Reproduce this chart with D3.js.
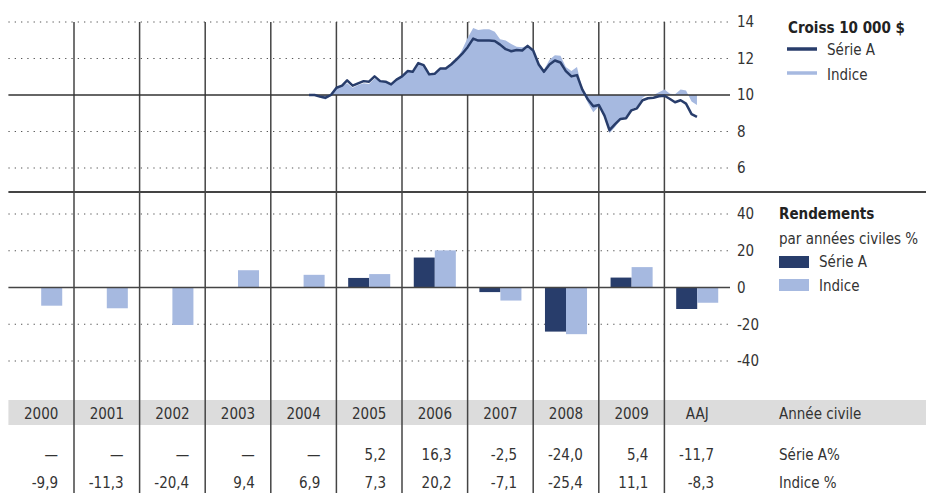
<!DOCTYPE html>
<html>
<head>
<meta charset="utf-8">
<script src="https://cdn.jsdelivr.net/npm/d3@7"></script>
<style>
  body { margin: 0; background: #fff; }
  text { font-family: "Liberation Sans Narrow", "DejaVu Sans Condensed", "Roboto", sans-serif; fill: #333; font-size: 15px; }
</style>
</head>
<body>
<div id="chart-area"></div>
<script>
// calendar columns
const years = ["2000", "2001", "2002", "2003", "2004", "2005", "2006", "2007", "2008", "2009", "AAJ"];
const serieA = [null, null, null, null, null, 5.2, 16.3, -2.5, -24.0, 5.4, -11.7];
const indice = [-9.9, -11.3, -20.4, 9.4, 6.9, 7.3, 20.2, -7.1, -25.4, 11.1, -8.3];

// growth of 10 000 $, monthly from Aug 2004 to Jul 2010
const growthStart = new Date(2004, 7, 1);
const growthA = [10.00, 10.00, 9.91, 9.85, 10.00,
  10.40, 10.51, 10.80, 10.51, 10.64, 10.76, 10.73, 11.02, 10.76, 10.73, 10.58, 10.84,
  11.02, 11.31, 11.27, 11.75, 11.64, 11.13, 11.16, 11.45, 11.45, 11.67, 11.96, 12.25,
  12.62, 13.09, 12.98, 12.98, 12.98, 12.96, 12.76, 12.51, 12.40, 12.47, 12.44, 12.69,
  12.44, 11.67, 11.27, 11.67, 11.89, 11.78, 11.31, 11.02, 11.09, 10.29, 9.75, 9.38,
  9.45, 8.87, 8.07, 8.40, 8.69, 8.73, 9.16, 9.27, 9.71, 9.82, 9.85, 9.93,
  9.96, 9.78, 9.60, 9.71, 9.53, 8.95, 8.80];
const growthI = [10.00, 10.05, 9.85, 9.75, 9.95,
  10.35, 10.50, 10.65, 10.40, 10.55, 10.65, 10.60, 10.90, 10.75, 10.70, 10.55, 10.85,
  11.00, 11.30, 11.25, 11.72, 11.62, 11.12, 11.15, 11.44, 11.44, 11.66, 11.95, 12.47,
  13.13, 13.67, 13.56, 13.60, 13.60, 13.47, 13.05, 12.98, 12.80, 12.65, 12.62, 12.70,
  12.50, 11.75, 11.38, 11.93, 12.18, 12.15, 11.53, 11.31, 11.53, 10.29, 9.56, 9.05,
  9.38, 8.80, 7.90, 8.25, 8.65, 8.80, 9.20, 9.35, 9.85, 10.04, 10.00, 10.15,
  10.30, 10.07, 10.04, 10.30, 10.25, 9.64, 9.45];

const growthTicks = [6, 8, 10, 12, 14];
const returnTicks = [-40, -20, 0, 20, 40];

const W = 926, H = 493;
const left = 8.4, right = 730;

const svg = d3.select("#chart-area").append("svg")
  .attr("width", W)
  .attr("height", H);

const x = d3.scaleBand().domain(years).range([left, right]).padding(0);
const xTime = d3.scaleTime().domain([new Date(2000, 0, 1), new Date(2011, 0, 1)]).range([left, right]);
const yTop = d3.scaleLinear().domain([6, 14]).range([168, 22]);
const yBot = d3.scaleLinear().domain([-40, 40]).range([361, 214]);
const xInner = d3.scaleBand().domain(["A", "I"]).range([0, x.bandwidth()]).paddingOuter(0.56).paddingInner(0);

const navy = "#283d6b", light = "#a6b9e0", gridCol = "#555";

// table band
svg.append("rect").attr("x", left).attr("y", 400).attr("width", W - left).attr("height", 25).attr("fill", "#dcdcdc");

// dotted grid lines
svg.append("g").selectAll("line").data(growthTicks.filter(d => d !== 10)).enter()
  .append("line")
  .attr("x1", left).attr("x2", 728)
  .attr("y1", d => yTop(d)).attr("y2", d => yTop(d))
  .attr("stroke", gridCol).attr("stroke-width", 1.2).attr("stroke-dasharray", "1.3,5");
svg.append("g").selectAll("line").data(returnTicks.filter(d => d !== 0)).enter()
  .append("line")
  .attr("x1", left).attr("x2", 728)
  .attr("y1", d => yBot(d)).attr("y2", d => yBot(d))
  .attr("stroke", gridCol).attr("stroke-width", 1.2).attr("stroke-dasharray", "1.3,5");

// vertical separators
svg.append("g").selectAll("line").data(years.slice(1)).enter()
  .append("line")
  .attr("x1", d => x(d)).attr("x2", d => x(d))
  .attr("y1", yTop(14)).attr("y2", H)
  .attr("stroke", "#444").attr("stroke-width", 1.5);

// index area + serie A line
const dates = growthA.map((d, i) => new Date(growthStart.getFullYear(), growthStart.getMonth() + i, 1));
const area = d3.area().x((d, i) => xTime(dates[i])).y0(yTop(10)).y1(d => yTop(d));
svg.append("path").datum(growthI).attr("d", area).attr("fill", light);

svg.append("line").attr("x1", left).attr("x2", right).attr("y1", yTop(10)).attr("y2", yTop(10))
  .attr("stroke", "#333").attr("stroke-width", 1.3);

const line = d3.line().x((d, i) => xTime(dates[i])).y(d => yTop(d));
svg.append("path").datum(growthA).attr("d", line)
  .attr("fill", "none").attr("stroke", navy).attr("stroke-width", 2.5).attr("stroke-linejoin", "round");

// separator between panels
svg.append("line").attr("x1", left).attr("x2", W).attr("y1", 192).attr("y2", 192)
  .attr("stroke", "#444").attr("stroke-width", 2);

// return bars
const barData = [];
years.forEach((yr, i) => {
  if (serieA[i] !== null) barData.push({ yr: yr, k: "A", v: serieA[i] });
  barData.push({ yr: yr, k: "I", v: indice[i] });
});
svg.append("g").selectAll("rect").data(barData).enter()
  .append("rect")
  .attr("x", d => x(d.yr) + xInner(d.k))
  .attr("width", xInner.bandwidth())
  .attr("y", d => yBot(Math.max(0, d.v)))
  .attr("height", d => Math.abs(yBot(d.v) - yBot(0)))
  .attr("fill", d => d.k === "A" ? navy : light);

svg.append("line").attr("x1", left).attr("x2", right).attr("y1", yBot(0)).attr("y2", yBot(0))
  .attr("stroke", "#444").attr("stroke-width", 1.3);

// y tick labels
svg.append("g").selectAll("text").data(growthTicks).enter()
  .append("text").attr("x", 737).attr("y", d => yTop(d)).attr("dy", "0.35em").text(d => d);
svg.append("g").selectAll("text").data(returnTicks).enter()
  .append("text").attr("x", 737).attr("y", d => yBot(d)).attr("dy", "0.35em").text(d => d);

// legends
svg.append("text").attr("x", 788).attr("y", 28).attr("dy", "0.35em")
  .style("font-weight", "bold").style("fill", "#222").text("Croiss 10 000 $");
svg.append("line").attr("x1", 787).attr("x2", 817).attr("y1", 49).attr("y2", 49).attr("stroke", navy).attr("stroke-width", 3.5);
svg.append("text").attr("x", 827).attr("y", 50).attr("dy", "0.35em").text("Série A");
svg.append("line").attr("x1", 787).attr("x2", 817).attr("y1", 73).attr("y2", 73).attr("stroke", light).attr("stroke-width", 3.5);
svg.append("text").attr("x", 827).attr("y", 75).attr("dy", "0.35em").text("Indice");

svg.append("text").attr("x", 779).attr("y", 214).attr("dy", "0.35em")
  .style("font-weight", "bold").style("fill", "#222").text("Rendements");
svg.append("text").attr("x", 779).attr("y", 239).attr("dy", "0.35em").text("par années civiles %");
svg.append("rect").attr("x", 779).attr("y", 256).attr("width", 30).attr("height", 12).attr("fill", navy);
svg.append("text").attr("x", 819).attr("y", 262).attr("dy", "0.35em").text("Série A");
svg.append("rect").attr("x", 779).attr("y", 279).attr("width", 30).attr("height", 12).attr("fill", light);
svg.append("text").attr("x", 819).attr("y", 286).attr("dy", "0.35em").text("Indice");

// table
const fmt = v => v === null ? "—" : d3.format(".1f")(v).replace(".", ",").replace("−", "-");
svg.append("g").selectAll("text").data(years).enter()
  .append("text").attr("x", d => x(d) + x.bandwidth() / 2).attr("y", 419)
  .attr("text-anchor", "middle").text(d => d);
svg.append("g").selectAll("text").data(serieA).enter()
  .append("text").attr("x", (d, i) => x(years[i]) + x.bandwidth() - 16).attr("y", 460)
  .attr("text-anchor", "end").text(d => fmt(d));
svg.append("g").selectAll("text").data(indice).enter()
  .append("text").attr("x", (d, i) => x(years[i]) + x.bandwidth() - 16).attr("y", 488)
  .attr("text-anchor", "end").text(d => fmt(d));

svg.append("text").attr("x", 779).attr("y", 419).text("Année civile");
svg.append("text").attr("x", 779).attr("y", 460).text("Série A%");
svg.append("text").attr("x", 779).attr("y", 488).text("Indice %");
</script>
</body>
</html>
